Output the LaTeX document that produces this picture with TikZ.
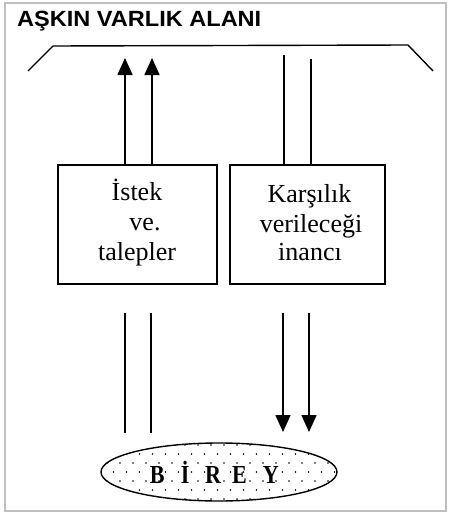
\documentclass[tikz,border=0pt]{standalone}
\usepackage{fontspec}
\setmainfont{Liberation Serif}
\newfontfamily\titlefont[FakeStretch=1.07]{Liberation Sans}
\newfontfamily\bireyfont[FakeStretch=0.85]{Liberation Serif}
\usetikzlibrary{arrows.meta,shapes.geometric}
\tikzset{
  frame/.style={draw=black!70, double=black!25, double distance=1.2pt, line width=0.7pt},
  rule/.style={line width=1.4pt},
  box/.style={draw, line width=1.4pt, minimum height=119pt, inner sep=0pt},
  txt/.style={anchor=base, inner sep=0pt, font=\fontsize{26}{29}\selectfont},
  flow/.style={line width=1.6pt},
  arr/.style={flow, -{Triangle[width=15pt,length=17pt]}}
}
\begin{document}
\begin{tikzpicture}[x=1pt,y=-1pt]
\useasboundingbox (0,0) rectangle (449,514);
\draw[frame] (5,3) rectangle (446,511);
\node[anchor=base west, inner sep=0pt, font=\titlefont\bfseries\fontsize{22}{24}\selectfont] (title) at (17,27) {AŞKIN VARLIK ALANI};
% upper boundary of the field
\draw[rule] (28,71) -- (53,46) -- (408,45) -- (433,71);
% boxes
\node[box, minimum width=159pt] (istek) at (137.5,224.5) {};
\node[box, minimum width=155pt] (karsi) at (307.5,224.5) {};
\node[txt] (i1) at (137,200) {İstek};
\node[txt] (i2) at (145,230) {ve.};
\node[txt] (i3) at (137,260) {talepler};
\node[txt] (k1) at (309.5,202) {Karşılık};
\node[txt] (k2) at (311,232) {verileceği};
\node[txt] (k3) at (310,260) {inancı};
% birey
\node[draw, line width=1.4pt, ellipse, minimum width=236pt, minimum height=58pt, inner sep=0pt,
  path picture={
    \foreach \r in {0,...,6} {
      \pgfmathsetmacro{\off}{mod(\r,2)*6.5}
      \foreach \c in {0,...,19} {
        \fill ([xshift={-125pt+\c*13pt+\off*1pt}, yshift={-27pt+\r*9pt}]path picture bounding box.center) circle (0.9pt);
      }
    }
  }] (birey) at (219,472) {};
\node[inner sep=0pt, anchor=base west, font=\bireyfont\bfseries\fontsize{26}{28}\selectfont] (bireytxt) at (149.6,483) {B\hspace{16.3pt}İ\hspace{15.7pt}R\hspace{11.1pt}E\hspace{16pt}Y};
% upward arrows from istek
\coordinate (ua1) at (125,58);
\coordinate (ua2) at (152,58);
\draw[arr] ([xshift=-12.5pt]istek.north) -- (ua1);
\draw[arr] ([xshift=14.5pt]istek.north) -- (ua2);
% lines above karsi
\coordinate (ul1) at (284,55);
\coordinate (ul2) at (311,59);
\draw[flow] ([xshift=-23.5pt]karsi.north) -- (ul1);
\draw[flow] ([xshift=3.5pt]karsi.north) -- (ul2);
% lower lines
\coordinate (la1) at (125,313);
\coordinate (lb1) at (125,433);
\coordinate (la2) at (151,313);
\coordinate (lb2) at (151,433);
\draw[flow] (la1) -- (lb1);
\draw[flow] (la2) -- (lb2);
\coordinate (ra1) at (283,313);
\coordinate (rb1) at (283,432);
\coordinate (ra2) at (309,313);
\coordinate (rb2) at (309,432);
\draw[arr] (ra1) -- (rb1);
\draw[arr] (ra2) -- (rb2);
\end{tikzpicture}
\end{document}
